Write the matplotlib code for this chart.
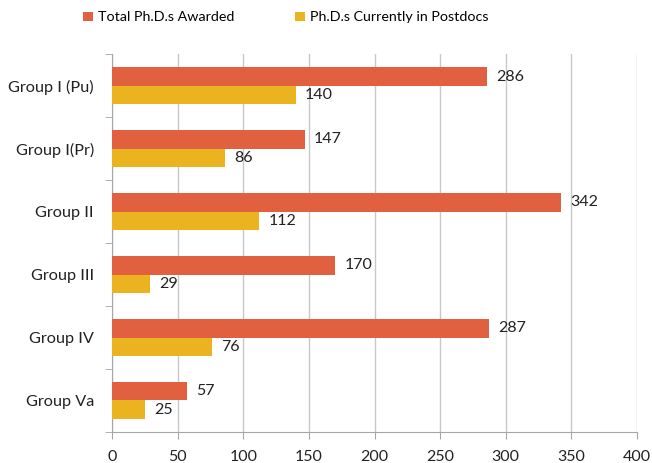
import matplotlib.pyplot as plt
import numpy as np

plt.rcParams['font.family'] = ['Lato', 'DejaVu Sans']

# data
groups = ['Group I (Pu)', 'Group I(Pr)', 'Group II', 'Group III', 'Group IV', 'Group Va']
total_phd = [286, 147, 342, 170, 287, 57]
postdocs = [140, 86, 112, 29, 76, 25]
series_names = ['Total Ph.D.s Awarded', 'Ph.D.s Currently in Postdocs']

c_total = '#E0603F'
c_post = '#EBB320'

fig = plt.figure(figsize=(6.52, 4.63), dpi=100)
ax = fig.add_axes([0.1718, 0.067, 0.977 - 0.1718, 0.883 - 0.067])

y = np.arange(len(groups))
h = 0.29
b1 = ax.barh(y - h / 2, total_phd, height=h, color=c_total, label=series_names[0], zorder=3)
b2 = ax.barh(y + h / 2, postdocs, height=h, color=c_post, label=series_names[1], zorder=3)

for bars, vals in [(b1, total_phd), (b2, postdocs)]:
    for bar, v in zip(bars, vals):
        ax.text(v + 7, bar.get_y() + bar.get_height() / 2, str(v),
                va='center', ha='left', fontsize=11.5, color='#222222')

ax.set_xlim(0, 400)
ax.set_ylim(len(groups) - 0.5, -0.5)
ax.set_xticks(np.arange(0, 401, 50))
ax.set_yticks(y)
ax.set_yticklabels(groups)
ax.set_yticks(np.arange(-0.5, len(groups), 1), minor=True)

ax.grid(axis='x', color='#C8C8C8', linewidth=1, zorder=0)
for s in ['top', 'right']:
    ax.spines[s].set_visible(False)
for s in ['left', 'bottom']:
    ax.spines[s].set_color('#A6A6A6')
ax.tick_params(axis='y', which='major', length=0, labelsize=11.7, pad=13, colors='#222222')
ax.tick_params(axis='y', which='minor', length=5, color='#A6A6A6')
ax.tick_params(axis='x', length=5, color='#A6A6A6', labelsize=11.5, pad=8, labelcolor='#222222')

fig.legend(handles=[b1, b2], loc='upper left', bbox_to_anchor=(0.108, 1.003), ncol=2,
           frameon=False, fontsize=10.3, handlelength=0.65, handleheight=0.65,
           handletextpad=0.35, columnspacing=4.3)

fig.savefig('out.png', dpi=100)
